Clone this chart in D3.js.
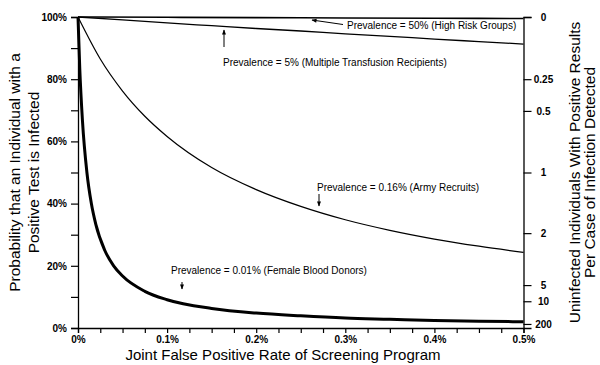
<!DOCTYPE html>
<html>
<head>
<meta charset="utf-8">
<script src="https://cdn.jsdelivr.net/npm/d3@7"></script>
<style>
  body { margin: 0; background: #fff; }
  svg text { font-family: "Liberation Sans", Arial, Helvetica, sans-serif; fill: #000; }
</style>
</head>
<body>
<div id="chart"></div>
<script>
// joint false positive rate (%) sample points, one set per curve
var fprHigh = [0, 0.1, 0.2, 0.3, 0.4, 0.5];
var ppvHigh = [100, 99.9, 99.8, 99.7, 99.6, 99.5];

var fprTransf = [0, 0.05, 0.1, 0.15, 0.2, 0.25, 0.3, 0.35, 0.4, 0.45, 0.5];
var ppvTransf = [100, 99.1, 98.1, 97.2, 96.3, 95.5, 94.6, 93.8, 92.9, 92.1, 91.3];

var fprArmy = [0, 0.025, 0.05, 0.075, 0.1, 0.15, 0.2, 0.25, 0.3, 0.35, 0.4, 0.45, 0.5];
var ppvArmy = [100, 86.5, 76.2, 68.1, 61.6, 51.6, 44.5, 39.1, 34.8, 31.4, 28.6, 26.3, 24.3];

var fprDonor = [0, 0.002, 0.005, 0.01, 0.015, 0.02, 0.03, 0.04, 0.05, 0.075, 0.1, 0.15, 0.2, 0.25, 0.3, 0.35, 0.4, 0.45, 0.5];
var ppvDonor = [100, 83.3, 66.7, 50, 40, 33.3, 25, 20, 16.7, 11.8, 9.1, 6.3, 4.8, 3.9, 3.2, 2.8, 2.4, 2.2, 2.0];

// axis ticks
var xTicks = [0, 0.1, 0.2, 0.3, 0.4, 0.5];
var yTicks = [0, 20, 40, 60, 80, 100];
var rightTickLabels = ["0", "0.25", "0.5", "1", "2", "5", "10", "200"];
var rightTickPos = [100, 80, 69.8, 50, 30.5, 13.8, 8.6, 1.3];   // where each label sits on the % scale

var labels = {
  high: "Prevalence = 50% (High Risk Groups)",
  transf: "Prevalence = 5% (Multiple Transfusion Recipients)",
  army: "Prevalence = 0.16% (Army Recruits)",
  donor: "Prevalence = 0.01% (Female Blood Donors)"
};

var W = 600, H = 365;
var svg = d3.select("#chart").append("svg")
    .attr("width", W).attr("height", H);

var x = d3.scaleLinear().domain([0, 0.5]).range([78, 523.5]);
var y = d3.scaleLinear().domain([0, 100]).range([328, 17]);

// arrow head
svg.append("defs").append("marker")
    .attr("id", "arr")
    .attr("viewBox", "0 0 10 10")
    .attr("refX", 9).attr("refY", 5)
    .attr("markerWidth", 6).attr("markerHeight", 5)
    .attr("orient", "auto")
  .append("path")
    .attr("d", "M0,1 L10,5 L0,9 Z")
    .attr("fill", "#000");

// axes
var bottom = svg.append("g")
    .attr("transform", "translate(0," + y(0) + ")")
    .call(d3.axisBottom(x).tickValues(d3.range(0, 0.5001, 0.025)).tickSize(5)
        .tickFormat(function (d) {
          var hit = xTicks.find(function (t) { return Math.abs(t - d) < 1e-6; });
          return hit === undefined ? "" : (hit === 0 ? "0%" : hit.toFixed(1) + "%");
        }));

var left = svg.append("g")
    .attr("transform", "translate(" + x(0) + ",0)")
    .call(d3.axisLeft(y).tickValues(d3.range(0, 101, 10)).tickSize(7)
        .tickFormat(function (d) { return yTicks.indexOf(d) >= 0 ? d + "%" : ""; }));

var right = svg.append("g")
    .attr("transform", "translate(" + x(0.5) + ",0)")
    .call(d3.axisRight(y).tickValues(rightTickPos).tickSize(8)
        .tickFormat(function (d, i) { return rightTickLabels[i]; }));

[bottom, left, right].forEach(function (g) {
  g.select(".domain").attr("stroke", "#000").attr("stroke-width", 1.3);
  g.selectAll(".tick line").attr("stroke", "#000").attr("stroke-width", 1.2);
  g.selectAll(".tick text").style("font-size", "10px").style("font-weight", "bold");
  // drop the empty labels of minor ticks
  g.selectAll(".tick text").filter(function () { return this.textContent === ""; }).remove();
});
bottom.selectAll(".tick text").attr("y", 8);
left.selectAll(".tick text").attr("x", -11);
right.selectAll(".tick text").attr("x", 20).attr("text-anchor", "middle");

// curves
var line = d3.line()
    .x(function (d) { return x(d[0]); })
    .y(function (d) { return y(d[1]); })
    .curve(d3.curveMonotoneX);

function pairs(a, b) { return a.map(function (v, i) { return [v, b[i]]; }); }

var curves = [
  { pts: pairs(fprHigh, ppvHigh), w: 1.6 },
  { pts: pairs(fprTransf, ppvTransf), w: 1.3 },
  { pts: pairs(fprArmy, ppvArmy), w: 1.2 },
  { pts: pairs(fprDonor, ppvDonor), w: 3 }
];

svg.selectAll("path.curve")
    .data(curves)
    .enter()
    .append("path")
    .attr("class", "curve")
    .attr("d", function (d) { return line(d.pts); })
    .attr("fill", "none")
    .attr("stroke", "#000")
    .attr("stroke-width", function (d) { return d.w; });

// annotations
function note(txt, tx, ty, ax1, ay1, ax2, ay2) {
  svg.append("text")
      .attr("x", tx).attr("y", ty)
      .style("font-size", "10px")
      .text(txt);
  svg.append("line")
      .attr("x1", ax1).attr("y1", ay1)
      .attr("x2", ax2).attr("y2", ay2)
      .attr("stroke", "#000").attr("stroke-width", 1)
      .attr("marker-end", "url(#arr)");
}
note(labels.high, 347, 29, 343, 24.5, 312, 20);
note(labels.transf, 223, 66, 224, 47, 224, 30);
note(labels.army, 317, 191, 319, 194, 319, 206);
note(labels.donor, 171, 274, 182, 282, 182, 289);

// axis titles
svg.append("text")
    .attr("x", 283).attr("y", 360)
    .attr("text-anchor", "middle")
    .style("font-size", "15px")
    .text("Joint False Positive Rate of Screening Program");

function vTitle(lines, xs, size) {
  lines.forEach(function (t, i) {
    svg.append("text")
        .attr("transform", "translate(" + xs[i] + "," + (y(0) + y(100)) / 2 + ") rotate(-90)")
        .attr("text-anchor", "middle")
        .attr("dy", "0.35em")
        .style("font-size", size + "px")
        .text(t);
  });
}
vTitle(["Probability that an Individual with a", "Positive Test is Infected"], [15, 34], 15.5);
vTitle(["Uninfected Individuals With Positive Results", "Per Case of Infection Detected"], [575, 590], 15.5);
</script>
</body>
</html>
